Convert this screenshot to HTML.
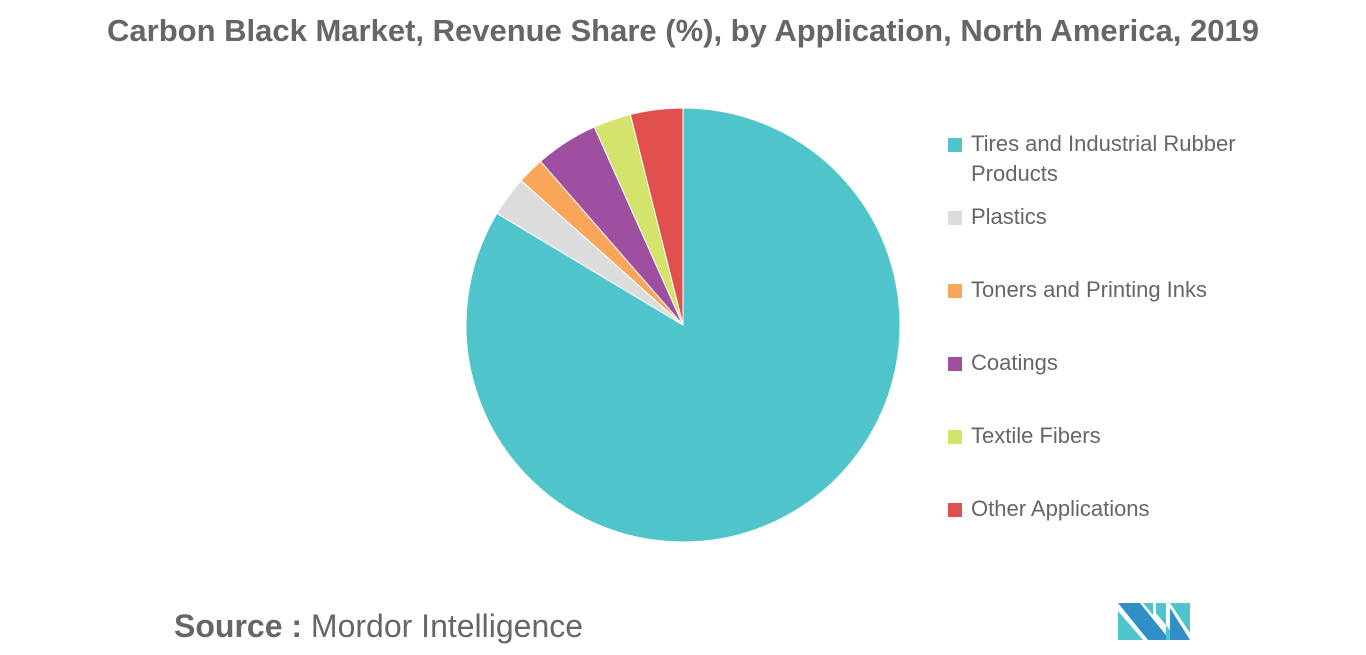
<!DOCTYPE html>
<html><head><meta charset="utf-8"><style>
body{margin:0;width:1366px;height:655px;background:#fff;overflow:hidden;font-family:"Liberation Sans",sans-serif;}
#title{position:absolute;top:13px;left:0;width:1366px;text-align:center;font-size:31px;font-weight:bold;color:#666;}
.leg{position:absolute;left:948px;font-size:22px;color:#666;line-height:30px;}
.sw{position:absolute;left:0;top:9px;width:14px;height:14px;}
.lt{margin-left:23px;display:block;width:320px;}
#src{position:absolute;left:174px;top:608px;font-size:32px;color:#666;}
</style></head><body>
<div id="title">Carbon Black Market, Revenue Share (%), by Application, North America, 2019</div>
<svg id="pie" width="1366" height="655" style="position:absolute;left:0;top:0"></svg>
<div id="legend"></div>
<div id="src"><b>Source :</b> Mordor Intelligence</div>
<svg width="80" height="40" style="position:absolute;left:1118px;top:603px">
<polygon points="0,0 22,0 52,37 30,37" fill="#2f8fc6"/>
<polygon points="0,8 25,37 0,37" fill="#4fc4cc"/>
<polygon points="25,0 35,0 35,12" fill="#4fc4cc"/>
<polygon points="38,0 48,0 48,37 60,37 38,10" fill="#4fc4cc"/>
<polygon points="52,0 72,0 72,30" fill="#4fc4cc"/>
<polygon points="52,5 72,37 52,37" fill="#2f8fc6"/>
</svg>
<script>
const categories=["Tires and Industrial Rubber Products","Plastics","Toners and Printing Inks","Coatings","Textile Fibers","Other Applications"];
const values=[83.6,3,2,4.7,2.8,3.9];
const colors=["#4fc4ca","#dcdcdc","#f9a65a","#9e4fa0","#d4e36b","#e0504f"];
const cx=683,cy=325,r=217;
const svg=document.getElementById('pie');
const total=values.reduce((a,b)=>a+b,0);
let a0=0;
function pt(a){return [cx+r*Math.sin(a),cy-r*Math.cos(a)];}
values.forEach((v,i)=>{
  const a1=a0+v/total*2*Math.PI;
  const p0=pt(a0),p1=pt(a1);
  const large=(a1-a0)>Math.PI?1:0;
  const p=document.createElementNS('http://www.w3.org/2000/svg','path');
  p.setAttribute('d',`M${cx},${cy} L${p0[0]},${p0[1]} A${r},${r} 0 ${large} 1 ${p1[0]},${p1[1]} Z`);
  p.setAttribute('fill',colors[i]);
  p.setAttribute('stroke','#fff');p.setAttribute('stroke-width','1');
  
  
  svg.appendChild(p);
  a0=a1;
});
const tops=[129,202,275,348,421,494];
const lg=document.getElementById('legend');
categories.forEach((c,i)=>{
  const d=document.createElement('div');
  d.className='leg';d.style.top=tops[i]+'px';
  
  
  d.innerHTML=`<span class="sw" style="background:${colors[i]}"></span><span class="lt">${c.replace('Rubber Products','Rubber<br>Products')}</span>`;
  lg.appendChild(d);
});
</script>
</body></html>
